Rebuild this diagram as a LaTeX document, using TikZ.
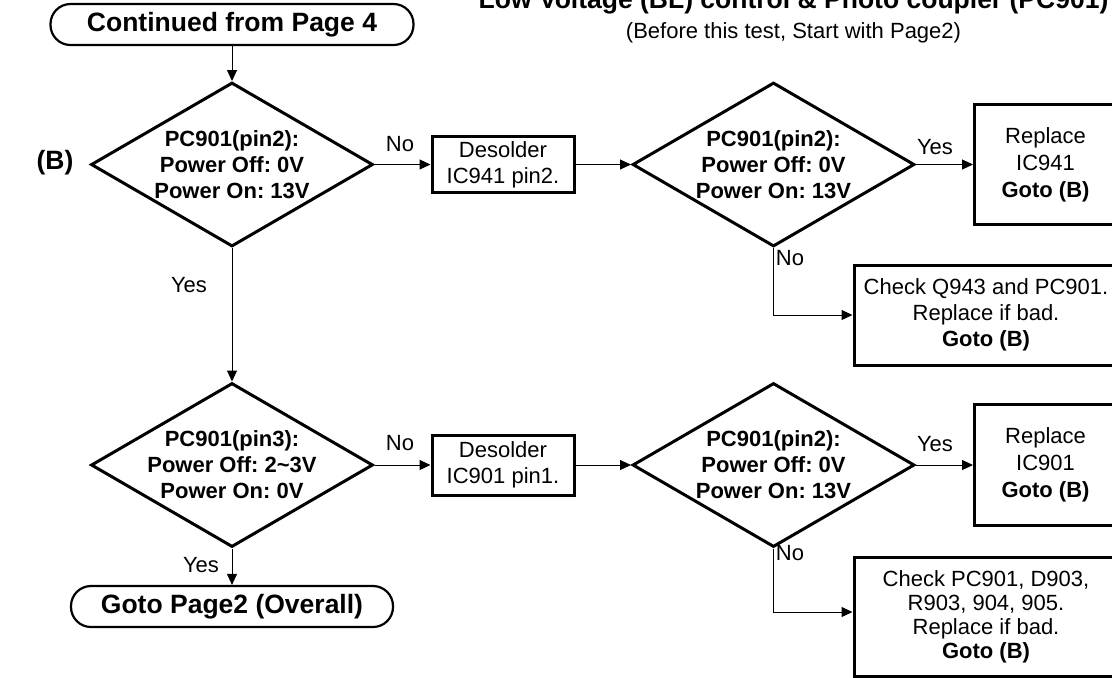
\documentclass[tikz,border=0pt]{standalone}
\usepackage{fontspec}
\setmainfont{Liberation Sans}
\usetikzlibrary{shapes.geometric, arrows.meta}
\frenchspacing

\begin{document}
\begin{tikzpicture}[x=0.5pt, y=-0.5pt,
    bigbold/.style={font=\fontsize{13.25}{15}\selectfont\bfseries},
    decision/.style={diamond, draw, line width=1.5pt, inner sep=0pt,
      minimum width=141pt, minimum height=82pt},
    dtext/.style={align=center, font=\fontsize{11}{13}\selectfont\bfseries},
    stepbox/.style={rectangle, draw, line width=1.5pt, inner sep=0pt, align=center,
      font=\fontsize{11}{13}\selectfont},
    terminal/.style={rectangle, draw, rounded corners=10pt, line width=1.1pt,
      inner sep=0pt, minimum width=181.5pt, minimum height=20.5pt, bigbold},
    flow/.style={line width=0.5pt, -{Triangle[length=5.5pt, width=5pt]}},
    answer/.style={font=\fontsize{11}{13}\selectfont}]

    \useasboundingbox (0,0) rectangle (1112,677);
    \clip (0,0) rectangle (1112,677);

    % heading, cut off by the top edge
    \node[bigbold, anchor=base] (title) at (793.5,8) {Low Voltage (BL) control \& Photo coupler (PC901)};
    \node[answer, anchor=base] (subtitle) at (793.5,38) {(Before this test, Start with Page2)};

    \node[terminal] (start) at (232,24.5) {Continued from Page 4};
    \node[bigbold] (tagB) at (55,163) {(B)};

    % left column
    \node[decision] (dec1) at (232,164.5) {};
    \node[dtext] (dectxt1) at (dec1) {PC901(pin2):\\Power Off: 0V\\Power On: 13V};
    \node[decision] (dec3) at (232,465) {};
    \node[dtext] (dectxt3) at (dec3) {PC901(pin3):\\Power Off: 2\textasciitilde3V\\Power On: 0V};
    \node[terminal, minimum width=161pt] (finish) at (232,606.5) {Goto Page2 (Overall)};

    % desolder steps
    \node[stepbox, minimum width=71pt, minimum height=28pt] (desol1) at (503,164.5) {Desolder\\IC941 pin2.};
    \node[stepbox, minimum width=71pt, minimum height=30pt] (desol2) at (503,465) {Desolder\\IC901 pin1.};

    % same check after each desolder step --- dec2 and dec4
    \foreach \y/\n in {164.5/2, 465/4} {
      \node[decision] (dec\n) at (773.5,\y) {};
      \node[dtext] (dectxt\n) at (dec\n) {PC901(pin2):\\Power Off: 0V\\Power On: 13V};
    }

    \node[stepbox, minimum width=71pt, minimum height=60pt, font=\fontsize{11}{13.5}\selectfont] (repl1) at (1045.5,164.5) {Replace\\IC941\\\textbf{Goto (B)}};
    \node[stepbox, minimum width=71pt, minimum height=60.5pt, font=\fontsize{11}{13.5}\selectfont] (repl2) at (1045.5,465) {Replace\\IC901\\\textbf{Goto (B)}};
    \node[stepbox, minimum width=132pt, minimum height=50pt] (chk1) at (986,315) {Check Q943 and PC901.\\Replace if bad.\\\textbf{Goto (B)}};
    \node[stepbox, minimum width=132pt, minimum height=59.5pt, font=\fontsize{11}{12}\selectfont] (chk2) at (986,616.5) {Check PC901, D903,\\R903, 904, 905.\\Replace if bad.\\\textbf{Goto (B)}};

    \draw[flow] (start) -- (dec1);
    \draw[flow] (dec1) -- (desol1);
    \draw[flow] (desol1) -- (dec2);
    \draw[flow] (dec2) -- (repl1);
    \draw[flow] (dec2) |- (chk1);
    \draw[flow] (dec1) -- (dec3);
    \draw[flow] (dec3) -- (desol2);
    \draw[flow] (desol2) -- (dec4);
    \draw[flow] (dec4) -- (repl2);
    \draw[flow] (dec4) |- ([yshift=2.25pt]chk2.west);
    \draw[flow] (dec3) -- (finish);

    % answers on the connectors
    \path (400,144) node[answer] (no1) {No};
    \path (935,147) node[answer] (yes1) {Yes};
    \path (790,258) node[answer] (no2) {No};
    \path (189,285) node[answer] (yes2) {Yes};
    \path (400,443) node[answer] (no3) {No};
    \path (935,444) node[answer] (yes3) {Yes};
    \path (790,553) node[answer] (no4) {No};
    \path (201,565) node[answer] (yes4) {Yes};

\end{tikzpicture}
\end{document}
